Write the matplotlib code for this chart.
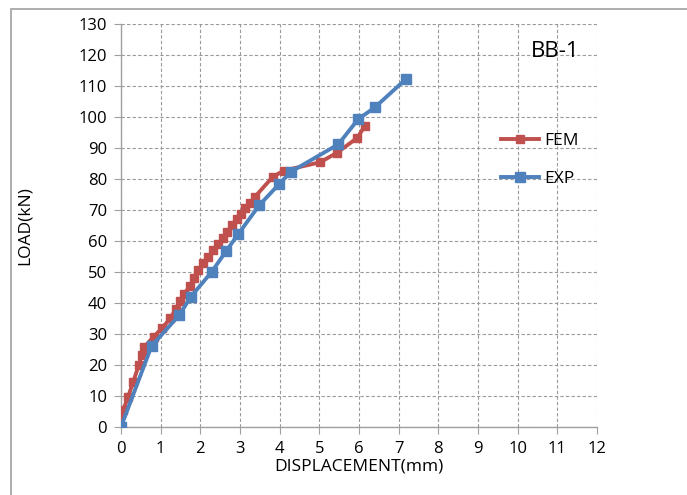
import matplotlib.pyplot as plt
from matplotlib.patches import Rectangle

# data
fem_x = [0, 0.06, 0.18, 0.31, 0.45, 0.52, 0.58, 0.82, 1.03, 1.24, 1.38, 1.49, 1.6,
         1.74, 1.85, 1.95, 2.08, 2.2, 2.33, 2.45, 2.57, 2.68, 2.8, 2.92, 3.02, 3.13,
         3.25, 3.38, 3.82, 4.1, 5.02, 5.45, 5.96, 6.15]
fem_y = [0, 5.5, 9.8, 14.6, 20, 23.2, 25.7, 29.1, 31.8, 35, 38, 40.5, 43,
         45.5, 48, 50.5, 52.8, 54.8, 57, 59, 61, 63, 65, 67, 68.8, 70.5,
         72.2, 74.3, 80.6, 82.7, 85.4, 88.5, 93.3, 97.2]
exp_x = [0, 0.77, 1.47, 1.76, 2.29, 2.66, 2.96, 3.49, 3.99, 4.28, 5.48, 5.98, 6.4, 7.18]
exp_y = [0, 26.1, 36.1, 42, 50.1, 56.9, 62.3, 71.6, 78.4, 82.3, 91.2, 99.3, 103.1, 112.2]

plt.rcParams['font.family'] = ['Open Sans', 'DejaVu Sans']

fig = plt.figure(figsize=(6.87, 4.95), dpi=100)
ax = fig.add_axes([0.1761, 0.1374, 0.6929, 0.8141])

# outer frame of the original picture
fig.patches.append(Rectangle((11 / 687, -0.1), 1.2, (495 - 9) / 495 + 0.1,
                             transform=fig.transFigure, fill=False,
                             edgecolor='#a0a0a0', linewidth=1.2))

ax.plot(fem_x, fem_y, color='#C0504D', linewidth=2.8, marker='s',
        markersize=5.5, label='FEM', zorder=3)
ax.plot(exp_x, exp_y, color='#4F81BD', linewidth=2.8, marker='s',
        markersize=7, label='EXP', zorder=4)

ax.set_xlim(0, 12)
ax.set_ylim(0, 130)
ax.set_xticks(range(0, 13))
ax.set_yticks(range(0, 131, 10))
ax.grid(True, linestyle=(0, (3, 2)), color='#9a9a9a', linewidth=0.8)
ax.set_axisbelow(True)

for s in ['top', 'right']:
    ax.spines[s].set_visible(False)
for s in ['left', 'bottom']:
    ax.spines[s].set_color('#a0a0a0')
    ax.spines[s].set_linewidth(1.0)
ax.tick_params(axis='both', colors='#a0a0a0', labelcolor='black',
               labelsize=12, length=5, direction='out')
ax.tick_params(axis='x', pad=5)
ax.tick_params(axis='y', pad=5)

ax.set_xlabel('DISPLACEMENT(mm)', fontsize=12.5, labelpad=1)
ax.set_ylabel('LOAD(kN)', fontsize=12.5, labelpad=33)

ax.text(10.95, 121, 'BB-1', fontsize=16, ha='center', va='center')

leg = ax.legend(loc='center left', bbox_to_anchor=(0.765, 0.6625), frameon=False,
                fontsize=12.5, handlelength=2.2, labelspacing=1.3,
                handletextpad=0.3, numpoints=1)

fig.savefig('out.png', dpi=100)
